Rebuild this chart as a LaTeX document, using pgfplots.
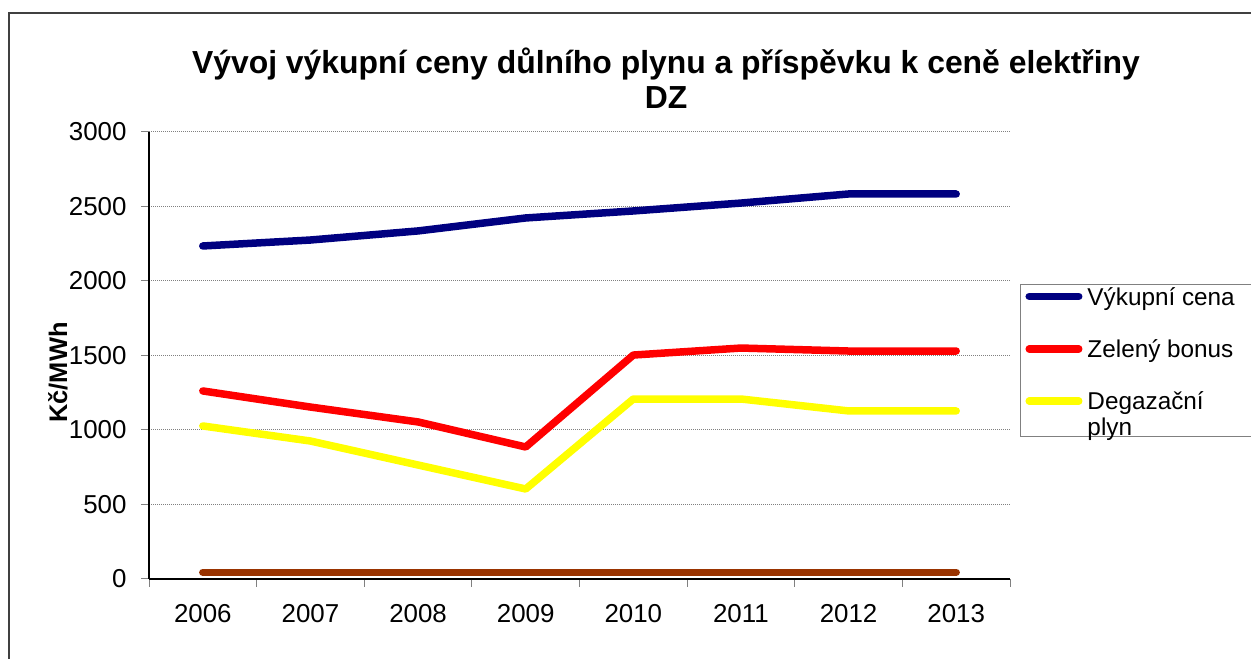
\documentclass[border=0pt]{standalone}
\usepackage{fontspec}
\setmainfont{Liberation Sans}
\usepackage{pgfplots}
\pgfplotsset{compat=1.18}
\definecolor{cnavy}{RGB}{0,0,128}
\definecolor{cred}{RGB}{255,0,0}
\definecolor{cyel}{RGB}{255,255,0}
\definecolor{cbrown}{RGB}{153,51,0}
\definecolor{cframe}{RGB}{64,64,64}
\definecolor{cgrid}{RGB}{128,128,128}
\newcommand\lstr{\rule{0pt}{19bp}}
\newcommand\legtext[2]{\parbox[t]{159bp}{\lstr\smash{#1}\\\lstr\smash{#2}}}
\begin{document}
\begin{tikzpicture}[x=1bp,y=1bp]
\path[use as bounding box] (0,0) rectangle (1251,659);
\draw[cframe, line width=1.5bp] (9,-5) -- (9,646) -- (1260,646);
\node[font=\fontsize{32}{35}\selectfont\bfseries, align=center] at (666,581) {Vývoj výkupní ceny důlního plynu a příspěvku k ceně elektřiny\\DZ};
\begin{axis}[
  at={(149bp,80bp)}, anchor=south west,
  scale only axis, width=861bp, height=447bp,
  xmin=0, xmax=8, ymin=0, ymax=3000,
  axis x line*=bottom, axis y line*=left,
  axis line style={black, line width=1.2bp, -},
  xtick={0,...,8}, xticklabels={},
  extra x ticks={0.5,1.5,...,7.5},
  extra x tick labels={2006,2007,2008,2009,2010,2011,2012,2013},
  extra x tick style={major tick length=0pt},
  ytick={0,500,...,3000},
  tick align=outside, major tick length=8bp,
  tick style={cgrid, line width=1bp},
  ymajorgrids,
  grid style={cgrid, dash pattern=on 1bp off 1bp, line width=1bp},
  /pgf/number format/assume math mode=true,
  /pgf/number format/1000 sep={},
  ticklabel style={font=\fontsize{26}{30}\selectfont},
  xticklabel style={yshift=-22bp},
  yticklabel style={xshift=-11bp},
  ylabel={\bfseries Kč/MWh},
  ylabel style={font=\fontsize{25.5}{30}\selectfont, at={(axis description cs:-0.1057,0.462)}, anchor=center},
  every axis plot/.append style={line width=7.5bp, line join=round, line cap=round},
  legend image code/.code={\draw[#1] (3.75bp,11.85bp) -- (53.25bp,11.85bp); \path[draw=none,fill=none] (0bp,-15.6bp) rectangle (1bp,15.6bp);},
  legend cell align=left,
  legend style={at={(axis description cs:1.0116,0.66)}, anchor=north west,
    draw=cgrid, line width=1bp, inner xsep=5bp, inner ysep=1.6bp,
    row sep=8bp, column sep=5bp, nodes={inner sep=0pt, text depth=},
    font=\fontsize{24.4}{25.5}\selectfont},
]
\addplot[cnavy] coordinates {(0.5,2235) (1.5,2275) (2.5,2336) (3.5,2423) (4.5,2470) (5.5,2523) (6.5,2584) (7.5,2584)};
\addlegendentry{\legtext{Výkupní cena}{}}
\addplot[cred] coordinates {(0.5,1262) (1.5,1154) (2.5,1054) (3.5,886) (4.5,1503) (5.5,1550) (6.5,1530) (7.5,1530)};
\addlegendentry{\legtext{Zelený bonus}{}}
\addplot[cyel] coordinates {(0.5,1027) (1.5,926) (2.5,765) (3.5,604) (4.5,1208) (5.5,1208) (6.5,1128) (7.5,1128)};
\addlegendentry{\legtext{Degazační}{plyn}}
\addplot[cbrown, forget plot] coordinates {(0.5,45) (1.5,45) (2.5,45) (3.5,45) (4.5,45) (5.5,45) (6.5,45) (7.5,45)};
\end{axis}
\end{tikzpicture}
\end{document}
